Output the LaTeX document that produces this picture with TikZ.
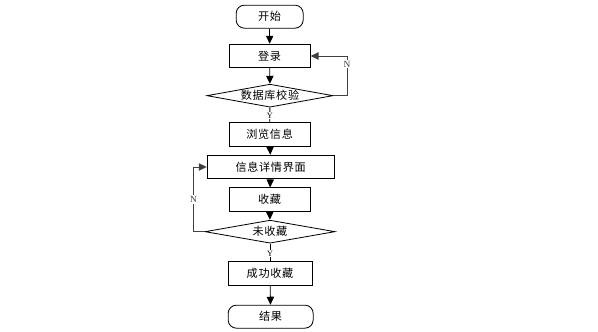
\documentclass[tikz,border=0pt]{standalone}
\usepackage{fontspec}
\setmainfont{Liberation Serif}
\newfontfamily\cjk[LetterSpace=6]{Noto Sans CJK SC}
\usepackage{tikz}
\usetikzlibrary{shapes,arrows.meta,positioning,calc}

\begin{document}
\begin{tikzpicture}[
    x=1cm,y=1cm,
    term/.style   = {rectangle, rounded corners=7pt, draw=black, line width=0.7pt,
                     font=\cjk\fontsize{9.5}{10}\selectfont, inner sep=0pt},
    proc/.style   = {rectangle, draw=black, line width=0.7pt,
                     font=\cjk\fontsize{9.5}{10}\selectfont, inner sep=0pt,
                     minimum width=2.43cm, minimum height=0.71cm},
    cond/.style   = {diamond, draw=black, line width=0.7pt, aspect=5.5,
                     font=\cjk\fontsize{9.5}{10}\selectfont, inner sep=0pt,
                     minimum height=0.69cm},
    flow/.style   = {-{Triangle[length=0.24cm,width=0.22cm]}, black, line width=0.7pt},
    plain/.style  = {black, line width=0.7pt},
    back/.style   = {-{Triangle[length=0.24cm,width=0.22cm]}, black!75, line width=0.7pt},
    yes/.style    = {font=\fontsize{7}{7}\selectfont, fill=white, inner sep=0.5pt},
    no/.style     = {font=\fontsize{8}{8}\selectfont, fill=white, inner sep=1pt},
  ]

  \useasboundingbox (0,0) rectangle (17.94,-9.96);

  \node[term, minimum width=2.01cm, minimum height=0.69cm] (start) at (8.09,-0.50) {开始};
  \node[proc] (login)   at (8.09,-1.68) {登录};
  \node[cond, minimum width=3.78cm] (check) at (8.10,-2.87) {数据库校验};
  \node[proc] (browse)  at (8.09,-4.04) {浏览信息};
  \node[proc, minimum width=3.81cm] (detail) at (8.12,-5.01) {信息详情界面};
  \node[proc] (collect) at (8.09,-5.99) {收藏};
  \node[cond, minimum width=3.90cm] (uncol) at (8.10,-6.95) {未收藏};
  \node[proc, minimum width=2.52cm] (done) at (8.10,-8.21) {成功收藏};
  \node[term, minimum width=2.55cm, minimum height=0.69cm] (stop) at (8.12,-9.50) {结果};

  \draw[flow]  (start) -- (login);
  \draw[flow]  (login) -- (check);
  \draw[plain] (check) -- node[yes,pos=0.55] {Y} (browse);
  \draw[flow]  (browse) -- (detail);
  \draw[flow]  (detail) -- (collect);
  \draw[flow]  (collect) -- (uncol);
  \draw[plain] (uncol) -- node[yes,pos=0.55] {Y} (done);
  \draw[flow]  (done) -- (stop);

  \draw[back] (check.east) -- ++(0.41,0) |- node[no,pos=0.4] {N} (login.east);
  \draw[back] (uncol.west) -- ++(-0.33,0) |- node[no,pos=0.25] {N} (detail.west);

\end{tikzpicture}
\end{document}
